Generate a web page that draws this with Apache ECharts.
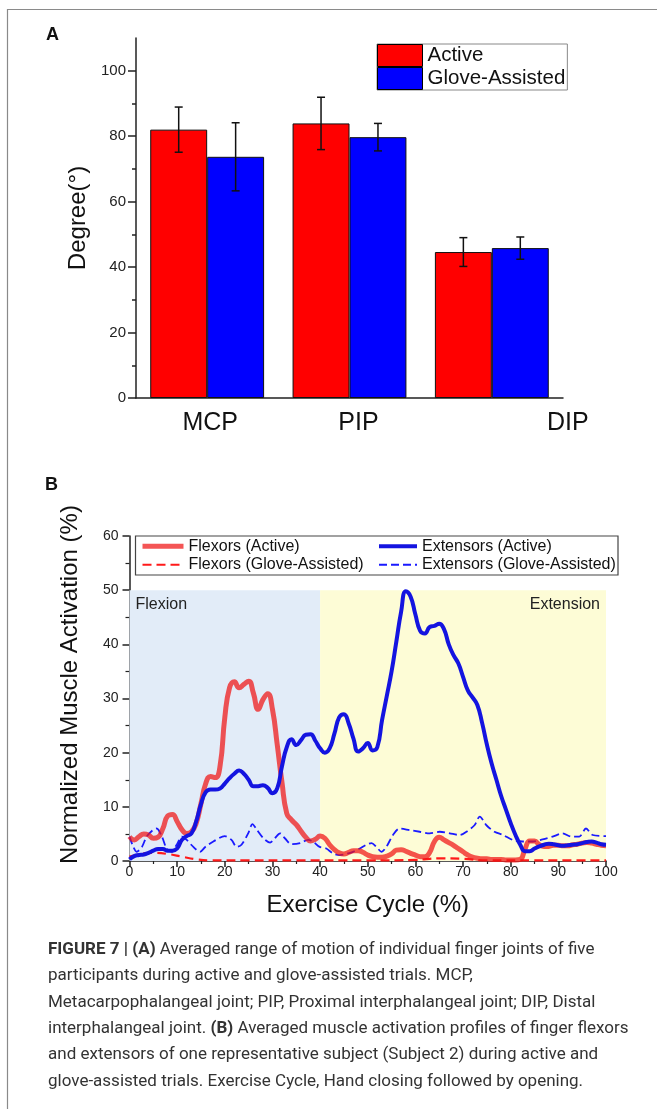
<!DOCTYPE html>
<html><head><meta charset="utf-8">
<script src="https://cdn.jsdelivr.net/npm/echarts@6/dist/echarts.min.js"></script>
<style>html,body{margin:0;padding:0;background:#fff}#c{width:657px;height:1109px}</style>
</head><body><div id="c"></div>
<script>
// ---------- Panel A data ----------
const joints = ['MCP', 'PIP', 'DIP'];
const activeMean = [82.0, 83.9, 44.6];
const activeErr = [6.9, 8.0, 4.4];
const gloveMean = [73.7, 79.7, 45.8];
const gloveErr = [10.4, 4.2, 3.4];
const degreeTicks = [0, 20, 40, 60, 80, 100];
const degreeMinorTicks = [10, 30, 50, 70, 90];

// ---------- Panel B data ----------
const flexorsActive = [4.5,3.9,4.5,5.0,4.8,4.2,4.4,6.0,8.3,8.6,
 7.3,5.8,5.1,5.4,7.0,10.6,14.3,15.6,15.4,17.5,
 26.5,32.0,33.1,32.0,32.6,33.2,31.0,28.0,29.8,30.9,
 28.0,21.5,14.5,8.8,7.6,6.7,5.5,4.4,3.7,4.0,
 4.6,4.2,3.0,2.1,1.5,1.3,1.6,1.9,1.9,1.6,
 1.1,0.8,0.7,0.7,0.9,1.3,2.0,2.1,1.8,1.4,
 1.1,0.8,0.8,1.6,3.6,4.4,3.9,3.4,2.9,2.3,
 1.7,1.1,0.7,0.5,0.4,0.4,0.3,0.3,0.3,0.2,
 0.2,0.2,0.3,2.2,3.7,3.7,3.0,2.7,2.7,2.9,
 2.9,2.8,2.8,3.0,3.1,3.3,3.4,3.3,3.1,2.9,
 2.8];
const extensorsActive = [0.3,0.9,1.1,1.2,1.5,1.9,2.2,2.2,1.9,1.9,
 2.3,3.9,4.6,5.1,7.3,10.5,12.7,13.2,13.2,13.4,
 14.3,15.3,16.1,16.7,16.1,15.0,13.8,13.8,14.0,13.5,
 12.5,13.4,17.5,21.0,22.5,21.4,22.3,23.3,23.4,22.2,
 20.8,20.0,20.8,23.5,26.5,27.1,25.4,22.6,20.2,20.8,
 21.8,20.4,21.0,26.0,30.5,35.0,40.5,46.0,49.8,48.8,
 45.5,42.5,42.0,43.2,43.4,43.8,42.8,40.0,38.0,36.5,
 34.0,31.5,30.2,28.8,25.5,21.5,18.0,15.0,12.0,9.5,
 7.0,4.8,3.0,1.8,1.8,2.3,2.7,3.0,3.2,3.1,
 2.9,2.8,2.9,3.0,3.1,3.3,3.5,3.6,3.4,3.1,
 3.0];
const extensorsGloveX = [0,0.8,1.5,2.6,3.6,4.9,5.7,6.8,7.8,8.9,9.9,11,12,13.4,14.8,15.9,17.6,20,21.4,22.5,23.5,24.9,25.8,26.7,28.1,29.5,30.5,31.6,32.6,34,35.8,37.5,38.5,39.9,41.3,42.7,44.1,45.5,46.9,48.3,49.7,50.8,51.8,52.9,53.9,55.3,56.7,58.8,60.9,63,65.1,67.2,69.3,70.7,72.4,73.5,74.9,76.6,78.4,80.4,82.5,84.6,86.7,88.8,90.9,92.7,94.4,95.8,97.2,100];
const extensorsGloveY = [4.5,2.6,1.7,2.6,4.5,5.7,6.0,4.5,2.3,1.7,3.0,4.5,3.9,2.6,1.7,2.6,3.6,4.6,3.9,2.6,3.0,5.1,6.8,5.8,4.2,3.4,4.2,5.1,4.2,3.1,3.3,3.9,3.6,2.6,2.3,1.4,1.1,1.3,1.7,2.3,3.0,3.3,2.6,1.7,2.6,4.8,6.0,5.7,5.4,5.1,5.4,5.1,4.8,5.4,6.6,8.2,6.6,5.4,4.8,3.9,3.6,3.6,4.0,4.5,5.1,4.5,4.5,6.0,4.8,4.6];
const flexorsGloveX = [0,3,5,8,11,14,17,25,35,50,60,65,70,75,85,100];
const flexorsGloveY = [0.8,1.4,1.5,1.3,0.8,0.3,0.1,0.1,0.1,0.1,0.2,0.5,0.4,0.1,0.1,0.1];
const phases = [
  {name: 'Flexion', from: 0, to: 40, top: 50},
  {name: 'Extension', from: 40, to: 100, top: 50}
];

const captionLines = [
  '{b|FIGURE 7 | (A)} Averaged range of motion of individual finger joints of five',
  'participants during active and glove-assisted trials. MCP,',
  'Metacarpophalangeal joint; PIP, Proximal interphalangeal joint; DIP, Distal',
  'interphalangeal joint. {b|(B)} Averaged muscle activation profiles of finger flexors',
  'and extensors of one representative subject (Subject 2) during active and',
  'glove-assisted trials. Exercise Cycle, Hand closing followed by opening.'
];

const FONT = '"Liberation Sans", Arial, sans-serif';
const chart = echarts.init(document.getElementById('c'), null, {renderer: 'canvas'});

function errRender(offset) {
  return function (params, api) {
    const i = api.value(0), m = api.value(1), e = api.value(2);
    const band = api.size([1, 0])[0];
    const x = api.coord([i, m])[0] + offset * band;
    const yt = api.coord([i, m + e])[1], yb = api.coord([i, m - e])[1];
    const hw = 4;
    const st = {stroke: '#111', lineWidth: 1.5};
    return {type: 'group', children: [
      {type: 'line', shape: {x1: x, y1: yt, x2: x, y2: yb}, style: st},
      {type: 'line', shape: {x1: x - hw, y1: yt, x2: x + hw, y2: yt}, style: st},
      {type: 'line', shape: {x1: x - hw, y1: yb, x2: x + hw, y2: yb}, style: st}
    ]};
  };
}

const pairs = (xs, ys) => xs.map((x, i) => [x, ys[i]]);
const idxPairs = ys => ys.map((y, i) => [i, y]);

const labelPad = {MCP: 6, PIP: 18, DIP: 152};

const captionGraphics = captionLines.map((t, k) => ({
  type: 'text', left: 48, top: 941 + k * 26.4,
  style: {
    text: t, font: '17px Roboto, sans-serif', fill: '#333',
    rich: {b: {fontWeight: 'bold', fontSize: 17, fontFamily: 'Roboto, sans-serif', fill: '#333'}}
  }
}));

const lineLegendBase = {
  orient: 'vertical', top: 537, itemHeight: 14, itemGap: 0, padding: 0, itemTextGap: 3,
  selectedMode: false,
  lineStyle: {width: 'inherit'},
  itemStyle: {opacity: 0, borderWidth: 0},
  textStyle: {fontSize: 16, color: '#111', lineHeight: 18.5}
};

const option = {
  animation: false,
  backgroundColor: '#fff',
  textStyle: {fontFamily: FONT},
  grid: [
    {left: 136, right: 94, top: 38, bottom: 711},
    {left: 129.5, right: 51, top: 536, bottom: 248}
  ],
  xAxis: [
    {
      type: 'category', gridIndex: 0, data: joints,
      axisLine: {lineStyle: {color: '#222', width: 1.5}},
      axisTick: {alignWithLabel: true, length: 6, lineStyle: {color: '#222', width: 1.5}},
      axisLabel: {
        interval: 0, hideOverlap: false,
        margin: 13, color: '#111', fontSize: 25, fontFamily: FONT,
        formatter: v => '{' + v + '|' + v + '}',
        rich: {
          MCP: {fontSize: 25, padding: [0, 0, 0, labelPad.MCP], color: '#111'},
          PIP: {fontSize: 25, padding: [0, 0, 0, labelPad.PIP], color: '#111'},
          DIP: {fontSize: 25, padding: [0, 0, 0, labelPad.DIP], color: '#111'}
        }
      }
    },
    {
      type: 'value', gridIndex: 1, min: 0, max: 100, interval: 10,
      name: 'Exercise Cycle (%)', nameLocation: 'middle', nameGap: 32,
      nameTextStyle: {fontSize: 24, color: '#111'},
      axisLine: {lineStyle: {color: '#222', width: 1.5}},
      axisTick: {length: 6, lineStyle: {color: '#222', width: 1.5}},
      minorTick: {show: true, splitNumber: 2, length: 3, lineStyle: {color: '#222', width: 1.2}},
      splitLine: {show: false},
      axisLabel: {margin: 4, fontSize: 14, color: '#222'}
    }
  ],
  yAxis: [
    {
      type: 'value', gridIndex: 0, min: 0, max: 110, position: 'left',
      name: 'Degree(°)', nameLocation: 'middle', nameGap: 46,
      nameTextStyle: {fontSize: 24, color: '#111'},
      axisLine: {show: true, lineStyle: {color: '#222', width: 1.5}},
      axisTick: {show: true, length: 8, customValues: degreeTicks, lineStyle: {color: '#222', width: 1.5}},
      axisLabel: {customValues: degreeTicks, margin: 10, fontSize: 15, color: '#222'},
      splitLine: {show: false}
    },
    {
      type: 'value', gridIndex: 0, min: 0, max: 110, position: 'left', offset: 0,
      axisLine: {show: false},
      axisTick: {show: true, length: 4, customValues: degreeMinorTicks, lineStyle: {color: '#222', width: 1.5}},
      axisLabel: {show: false},
      splitLine: {show: false}
    },
    {
      type: 'value', gridIndex: 1, min: 0, max: 60, interval: 10,
      name: 'Normalized Muscle Activation (%)', nameLocation: 'middle', nameGap: 47,
      nameTextStyle: {fontSize: 24, color: '#111', padding: [0, 0, 0, 28]},
      axisLine: {show: true, lineStyle: {color: '#222', width: 1.5}},
      axisTick: {show: true, length: 7, lineStyle: {color: '#222', width: 1.5}},
      minorTick: {show: true, splitNumber: 2, length: 4, lineStyle: {color: '#222', width: 1.2}},
      axisLabel: {margin: 11, fontSize: 14, color: '#222'},
      splitLine: {show: false}
    }
  ],
  legend: [
    {
      data: ['Active', 'Glove-Assisted'], orient: 'vertical', left: 377, top: 44,
      itemWidth: 45, itemHeight: 22, itemGap: 0, padding: [0, 2, 0, 0], itemTextGap: 6,
      icon: 'rect', selectedMode: false,
      borderColor: '#888', borderWidth: 1,
      itemStyle: {borderColor: '#000', borderWidth: 1},
      textStyle: {fontSize: 20.5, color: '#111', lineHeight: 22.5}
    },
    Object.assign({}, lineLegendBase, {
      data: ['Flexors (Active)', 'Flexors (Glove-Assisted)'], left: 140, itemWidth: 41
    }),
    Object.assign({}, lineLegendBase, {
      data: ['Extensors (Active)', 'Extensors (Glove-Assisted)'], left: 377, itemWidth: 38
    })
  ],
  graphic: [
    {type: 'polyline', silent: true, shape: {points: [[7.5, 1109], [7.5, 9.5], [657, 9.5]]}, style: {stroke: '#8a8a8a', lineWidth: 1.2, fill: null}},
    {type: 'text', left: 46, top: 26, style: {text: 'A', font: 'bold 18px "Liberation Sans", Arial, sans-serif', fill: '#111'}},
    {type: 'text', left: 45, top: 476, style: {text: 'B', font: 'bold 18px "Liberation Sans", Arial, sans-serif', fill: '#111'}},
    {type: 'rect', silent: true, shape: {x: 135.5, y: 536, width: 482.5, height: 39}, style: {fill: 'none', stroke: '#444', lineWidth: 1.2}, z: 10}
  ].concat(captionGraphics),
  series: [
    {
      name: 'Active', type: 'bar', xAxisIndex: 0, yAxisIndex: 0, data: activeMean,
      barGap: '0%', barCategoryGap: '20%',
      itemStyle: {color: '#ff0000', borderColor: '#111', borderWidth: 1}
    },
    {
      name: 'Glove-Assisted', type: 'bar', xAxisIndex: 0, yAxisIndex: 0, data: gloveMean,
      barGap: '0%', barCategoryGap: '20%',
      itemStyle: {color: '#0000ff', borderColor: '#111', borderWidth: 1}
    },
    {
      type: 'custom', xAxisIndex: 0, yAxisIndex: 0, renderItem: errRender(-0.2), z: 5,
      data: joints.map((j, i) => [i, activeMean[i], activeErr[i]])
    },
    {
      type: 'custom', xAxisIndex: 0, yAxisIndex: 0, renderItem: errRender(0.2), z: 5,
      data: joints.map((j, i) => [i, gloveMean[i], gloveErr[i]])
    },
    {
      type: 'line', xAxisIndex: 1, yAxisIndex: 2, data: [], z: 1, silent: true,
      markArea: {
        silent: true,
        data: phases.map((p, k) => [
          {xAxis: p.from, yAxis: 0, name: p.name,
           itemStyle: {color: k === 0 ? 'rgb(226,236,248)' : 'rgb(253,252,214)'},
           label: {show: true, position: k === 0 ? 'insideTopLeft' : 'insideTopRight', distance: 6, fontSize: 16, color: '#222', fontFamily: FONT}},
          {xAxis: p.to, yAxis: p.top}
        ])
      }
    },
    {
      name: 'Flexors (Glove-Assisted)', type: 'line', xAxisIndex: 1, yAxisIndex: 2, z: 3,
      data: pairs(flexorsGloveX, flexorsGloveY), symbol: 'none', smooth: 0.4,
      lineStyle: {color: '#ff1a1a', width: 2.2, type: [9, 5]}, itemStyle: {color: '#ff1a1a'}
    },
    {
      name: 'Extensors (Glove-Assisted)', type: 'line', xAxisIndex: 1, yAxisIndex: 2, z: 3,
      data: pairs(extensorsGloveX, extensorsGloveY), symbol: 'none', smooth: 0.3,
      lineStyle: {color: '#1a1aff', width: 1.8, type: [8, 4]}, itemStyle: {color: '#1a1aff'}
    },
    {
      name: 'Flexors (Active)', type: 'line', xAxisIndex: 1, yAxisIndex: 2, z: 4,
      data: idxPairs(flexorsActive), symbol: 'none', smooth: 0.5,
      lineStyle: {color: 'rgba(240,20,20,0.72)', width: 5}, itemStyle: {color: 'rgba(240,20,20,0.72)'}
    },
    {
      name: 'Extensors (Active)', type: 'line', xAxisIndex: 1, yAxisIndex: 2, z: 5,
      data: idxPairs(extensorsActive), symbol: 'none', smooth: 0.5,
      lineStyle: {color: '#1414e0', width: 4}, itemStyle: {color: '#1414e0'}
    }
  ]
};
chart.setOption(option);
</script>
</body></html>
